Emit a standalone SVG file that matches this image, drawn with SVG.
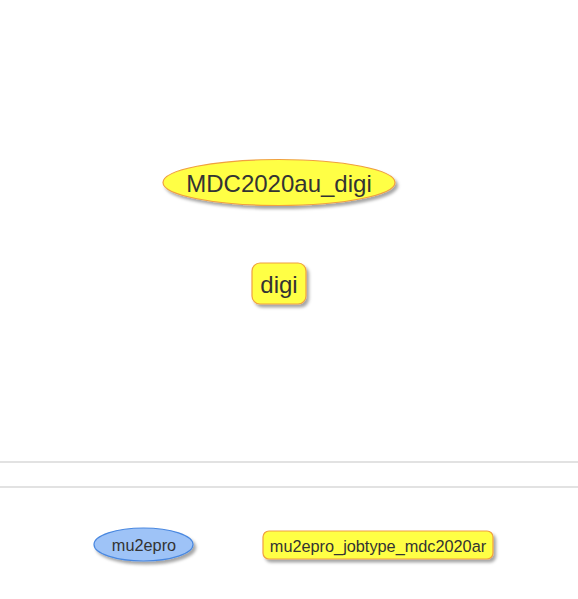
<svg xmlns="http://www.w3.org/2000/svg" width="578" height="599" viewBox="0 0 578 599">
<defs>
<filter id="sh" x="-20%" y="-30%" width="150%" height="170%">
<feDropShadow dx="2.5" dy="3" stdDeviation="1.5" flood-color="#000" flood-opacity="0.35"/>
</filter>
<style>
.y{fill:#ffff44;stroke:#f0a040;stroke-width:1.2;filter:url(#sh)}
.b{fill:#9ec3f7;stroke:#4a88e0;stroke-width:1.2;filter:url(#sh)}
.t{font-family:"Liberation Sans",Arial,sans-serif;fill:#333;text-anchor:middle;dominant-baseline:central}
.sep{stroke:#d8d8d8;stroke-width:1.5}
</style>
</defs>
<rect width="578" height="599" fill="#fff"/>
<g id="connectors"></g>
<g id="separators">
<line class="sep" x1="0" y1="462" x2="578" y2="462"/>
<line class="sep" x1="0" y1="487" x2="578" y2="487"/>
</g>
<g id="node-MDC2020au_digi">
<ellipse class="y" cx="279" cy="182.5" rx="116" ry="23"/>
<text class="t" x="279" y="183" font-size="24">MDC2020au_digi</text>
</g>
<g id="node-digi">
<rect class="y" x="252" y="263" width="54" height="41" rx="8"/>
<text class="t" x="279" y="284" font-size="24">digi</text>
</g>
<g id="node-mu2epro">
<ellipse class="b" cx="143.5" cy="544.5" rx="49.5" ry="16.5"/>
<text class="t" x="144" y="545" font-size="16.3">mu2epro</text>
</g>
<g id="node-mu2epro_jobtype_mdc2020ar">
<rect class="y" x="263" y="531" width="230" height="28" rx="6"/>
<text class="t" x="378" y="545.5" font-size="16.3">mu2epro_jobtype_mdc2020ar</text>
</g>
</svg>
